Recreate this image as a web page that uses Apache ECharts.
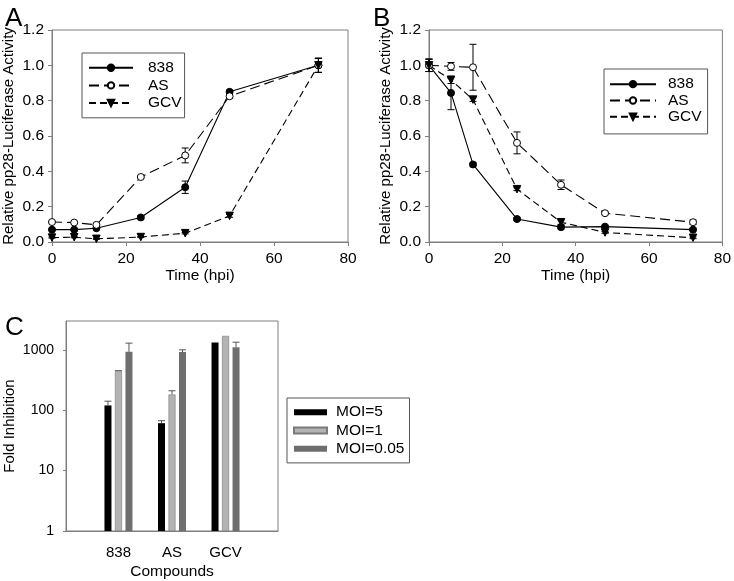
<!DOCTYPE html>
<html>
<head>
<meta charset="utf-8">
<script src="https://cdn.jsdelivr.net/npm/echarts@6/dist/echarts.min.js"></script>
<style>
html,body{margin:0;padding:0;background:#fff;}
#chart{width:734px;height:581px;}
</style>
</head>
<body>
<div id="chart"></div>
<script>
// ---- Data ----
const hours = [0, 6, 12, 24, 36, 48, 72];
const seriesNames = ['838', 'AS', 'GCV'];

// Panel A
const a838 = [0.07, 0.07, 0.078, 0.139, 0.31, 0.85, 1.0];
const a838Err = [0.003, 0.003, 0.005, 0.01, 0.035, 0.01, 0.04];
const aAS = [0.113, 0.11, 0.097, 0.368, 0.49, 0.825, 1.0];
const aASErr = [0.005, 0.003, 0.005, 0.007, 0.042, 0.012, 0.04];
const aGCV = [0.025, 0.027, 0.018, 0.028, 0.05, 0.148, 1.0];
const aGCVErr = [0.003, 0.003, 0.003, 0.003, 0.004, 0.008, 0.04];

// Panel B
const b838 = [1.0, 0.844, 0.439, 0.13, 0.084, 0.087, 0.07];
const b838Err = [0.035, 0.095, 0.008, 0.008, 0.01, 0.005, 0.005];
const bAS = [1.0, 0.994, 0.989, 0.561, 0.324, 0.163, 0.112];
const bASErr = [0.035, 0.022, 0.13, 0.062, 0.027, 0.008, 0.012];
const bGCV = [1.0, 0.917, 0.806, 0.299, 0.112, 0.054, 0.024];
const bGCVErr = [0.035, 0.02, 0.01, 0.008, 0.012, 0.005, 0.005];

// Panel C
const compounds = ['838', 'AS', 'GCV'];
const moiNames = ['MOI=5', 'MOI=1', 'MOI=0.05'];
const moi5 = [120, 61, 1320];
const moi5Err = [21, 6, 0];
const moi1 = [447, 182, 1700];
const moi1Err = [5, 28, 0];
const moi005 = [927, 916, 1107];
const moi005Err = [363, 84, 230];

// ---- Helpers ----
const FONT = 'Liberation Sans, Arial, sans-serif';
const AX = '#7f7f7f';
const FS = 15.5;
function pairs(xs, ys) { return xs.map((x, i) => [x, ys[i]]); }
function triples(xs, ys, es) { return xs.map((x, i) => [x, ys[i], es[i]]); }

function errRender(params, api) {
  const x = api.value(0), y = api.value(1), e = api.value(2);
  if (!e) return null;
  const top = api.coord([x, y + e]);
  const bot = api.coord([x, y - e]);
  const hw = 3.5;
  return {
    type: 'group',
    children: [
      { type: 'line', shape: { x1: top[0], y1: top[1], x2: bot[0], y2: bot[1] }, style: { stroke: '#000', lineWidth: 1 } },
      { type: 'line', shape: { x1: top[0] - hw, y1: top[1], x2: top[0] + hw, y2: top[1] }, style: { stroke: '#000', lineWidth: 1 } },
      { type: 'line', shape: { x1: bot[0] - hw, y1: bot[1], x2: bot[0] + hw, y2: bot[1] }, style: { stroke: '#000', lineWidth: 1 } }
    ]
  };
}
function barErrRender(dx) {
  return function (params, api) {
    const x = api.value(0), y = api.value(1), e = api.value(2);
    if (!e) return null;
    const p0 = api.coord([x, y]);
    const p1 = api.coord([x, y + e]);
    const cx = p0[0] + dx, hw = 3.5;
    return {
      type: 'group',
      children: [
        { type: 'line', shape: { x1: cx, y1: p0[1], x2: cx, y2: p1[1] }, style: { stroke: '#555', lineWidth: 1 } },
        { type: 'line', shape: { x1: cx - hw, y1: p1[1], x2: cx + hw, y2: p1[1] }, style: { stroke: '#555', lineWidth: 1 } }
      ]
    };
  };
}

const lineStyles = [
  { name: '838', dash: 'solid', symbol: 'circle', size: 7, fill: '#000', rot: 0 },
  { name: 'AS', dash: [10, 5], symbol: 'circle', size: 7, fill: '#fff', rot: 0 },
  { name: 'GCV', dash: [7, 4], symbol: 'triangle', size: 7.5, fill: '#000', rot: 180 }
];

function lineSeries(gi, values, errs) {
  const out = [];
  values.forEach((vals, k) => {
    const st = lineStyles[k];
    out.push({
      type: 'custom', xAxisIndex: gi, yAxisIndex: gi, z: 1, silent: true,
      renderItem: errRender, encode: { x: 0, y: 1 },
      data: triples(hours, vals, errs[k])
    });
    out.push({
      type: 'line', name: st.name, xAxisIndex: gi, yAxisIndex: gi, z: 3,
      data: pairs(hours, vals),
      symbol: st.symbol, symbolSize: st.size, symbolRotate: st.rot,
      showAllSymbol: true,
      lineStyle: { color: '#000', width: 1.1, type: st.dash },
      itemStyle: { color: st.fill, borderColor: '#000', borderWidth: 1 }
    });
  });
  return out;
}

const valueAxisX = (gi) => ({
  gridIndex: gi, type: 'value', min: 0, max: 80, interval: 20,
  name: 'Time (hpi)', nameLocation: 'middle', nameGap: 25,
  nameTextStyle: { color: '#000', fontSize: FS, fontFamily: FONT },
  axisLine: { show: true, lineStyle: { color: AX } },
  axisTick: { show: true, length: 4, lineStyle: { color: AX } },
  axisLabel: { color: '#000', fontSize: FS, fontFamily: FONT, margin: 9 },
  splitLine: { show: false }
});
const valueAxisY = (gi) => ({
  gridIndex: gi, type: 'value', min: 0, max: 1.2, interval: 0.2,
  name: 'Relative pp28-Luciferase Activity', nameLocation: 'middle', nameGap: 36,
  nameTextStyle: { color: '#000', fontSize: 15, fontFamily: FONT },
  axisLine: { show: true, lineStyle: { color: AX } },
  axisTick: { show: true, length: 4, lineStyle: { color: AX } },
  axisLabel: { color: '#000', fontSize: FS, fontFamily: FONT, margin: 8, formatter: v => v.toFixed(1) },
  splitLine: { show: false }
});

const barColors = ['#000000', '#b3b3b3', '#6e6e6e'];
const barVals = [moi5, moi1, moi005];
const barErrs = [moi5Err, moi1Err, moi005Err];
const barSeries = [];
const pitch = 10.5;
barVals.forEach((vals, k) => {
  barSeries.push({
    type: 'bar', name: moiNames[k], xAxisIndex: 2, yAxisIndex: 2, z: 2,
    data: compounds.map((c, i) => [i + 1, vals[i]]),
    barWidth: 7, barGap: '50%',
    itemStyle: { color: barColors[k], borderColor: k === 1 ? '#7a7a7a' : barColors[k], borderWidth: k === 1 ? 0.6 : 0 }
  });
});
barErrs.forEach((errs, k) => {
  barSeries.push({
    type: 'custom', xAxisIndex: 2, yAxisIndex: 2, z: 1, silent: true,
    renderItem: barErrRender((k - 1) * pitch), encode: { x: 0, y: 1 },
    data: compounds.map((c, i) => [i + 1, barVals[k][i], errs[i]])
  });
});

const legendCommon = {
  orient: 'vertical', backgroundColor: '#fff',
  borderColor: '#555', borderWidth: 1,
  itemWidth: 44, itemHeight: 8, itemGap: 0
};

const option = {
  animation: false,
  backgroundColor: '#fff',
  title: [
    { text: 'A', left: 0, top: 1, textStyle: { fontSize: 26, fontWeight: 'normal', color: '#000', fontFamily: FONT } },
    { text: 'B', left: 368, top: 1, textStyle: { fontSize: 26, fontWeight: 'normal', color: '#000', fontFamily: FONT } },
    { text: 'C', left: 0, top: 310, textStyle: { fontSize: 26, fontWeight: 'normal', color: '#000', fontFamily: FONT } }
  ],
  grid: [
    { left: 52, top: 30, width: 296, height: 212, show: true, borderColor: AX, borderWidth: 1, containLabel: false },
    { left: 429, top: 30, width: 298, height: 212, show: true, borderColor: AX, borderWidth: 1, containLabel: false },
    { left: 66, top: 321, width: 212, height: 212, show: true, borderColor: AX, borderWidth: 1, containLabel: false }
  ],
  xAxis: [
    valueAxisX(0), valueAxisX(1),
    {
      gridIndex: 2, type: 'value', min: 0.02, max: 3.98,
      name: 'Compounds', nameLocation: 'middle', nameGap: 33,
      nameTextStyle: { color: '#000', fontSize: FS, fontFamily: FONT },
      axisLine: { show: true, lineStyle: { color: AX } },
      axisTick: { show: false },
      axisLabel: { color: '#000', fontSize: 15, fontFamily: FONT, margin: 14, customValues: [1, 2, 3], formatter: v => compounds[Math.round(v) - 1] || '' },
      splitLine: { show: false }
    }
  ],
  yAxis: [
    valueAxisY(0), valueAxisY(1),
    {
      gridIndex: 2, type: 'log', logBase: 10, min: 1, max: 3000,
      name: 'Fold Inhibition', nameLocation: 'middle', nameGap: 49,
      nameTextStyle: { color: '#000', fontSize: 15, fontFamily: FONT },
      axisLine: { show: true, lineStyle: { color: AX } },
      axisTick: { show: true, length: 3, lineStyle: { color: AX } },
      axisLabel: { color: '#000', fontSize: 14, fontFamily: FONT, margin: 12, showMaxLabel: false, formatter: v => String(Math.round(v)) },
      splitLine: { show: false }
    }
  ],
  legend: [
    Object.assign({}, legendCommon, {
      data: seriesNames, left: 82, top: 53, padding: [6, 3, 6, 6],
      textStyle: { color: '#000', fontSize: FS, fontFamily: FONT, lineHeight: 17.6, padding: [0, 0, 0, 10] }
    }),
    Object.assign({}, legendCommon, {
      data: seriesNames, left: 604, top: 69, padding: [7, 6, 9, 5], itemWidth: 46,
      textStyle: { color: '#000', fontSize: FS, fontFamily: FONT, lineHeight: 16.3, padding: [0, 0, 0, 7] }
    }),
    Object.assign({}, legendCommon, {
      data: moiNames, left: 287, top: 398, itemWidth: 33, itemHeight: 6, icon: 'rect', padding: [5, 5, 5, 6],
      textStyle: { color: '#000', fontSize: FS, fontFamily: FONT, lineHeight: 18.3, padding: [0, 0, 0, 4] }
    })
  ],
  series: [].concat(
    lineSeries(0, [a838, aAS, aGCV], [a838Err, aASErr, aGCVErr]),
    lineSeries(1, [b838, bAS, bGCV], [b838Err, bASErr, bGCVErr]),
    barSeries
  )
};

const chart = echarts.init(document.getElementById('chart'), null, { renderer: 'canvas' });
chart.setOption(option);
</script>
</body>
</html>
